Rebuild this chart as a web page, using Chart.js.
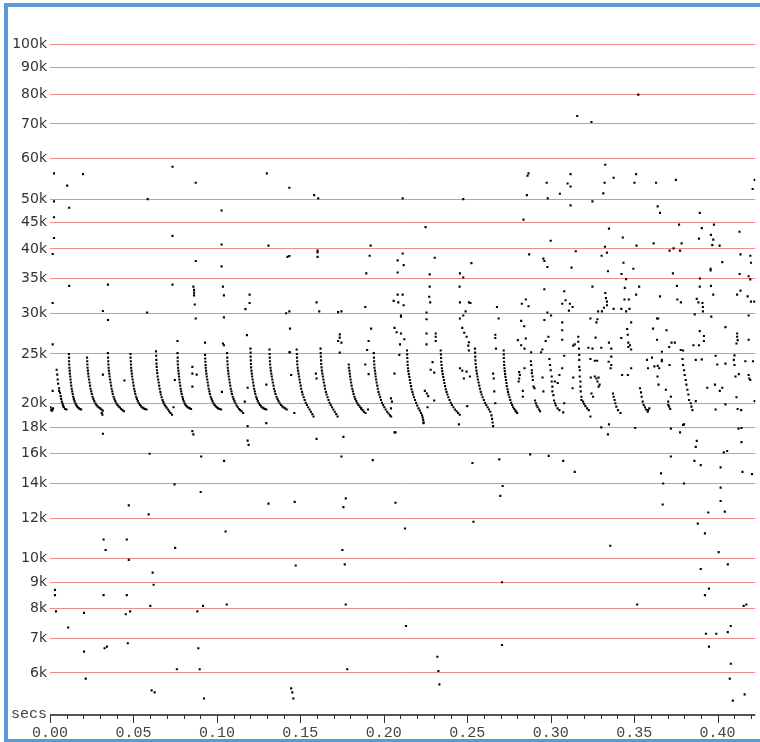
<!DOCTYPE html>
<html>
<head>
<meta charset="utf-8">
<script src="https://cdn.jsdelivr.net/npm/chart.js@4.4.1/dist/chart.umd.min.js"></script>
<style>
  html, body { margin: 0; padding: 0; background: #fff; }
  #wrap { position: relative; width: 760px; height: 742px; overflow: hidden; }
  #frame { position: absolute; left: 4px; top: 3px; width: 800px; height: 732px;
           border: 4px solid #5b9bd5; border-right: none; pointer-events: none; }
  canvas { position: absolute; left: 0; top: 0; }
</style>
</head>
<body>
<div id="wrap">
  <canvas id="chart" width="760" height="742"></canvas>
  <div id="frame"></div>
</div>
<script>
// time in ms, frequency in kHz
const yTicksK = [6, 7, 8, 9, 10, 12, 14, 16, 18, 20, 25, 30, 35, 40, 45, 50, 60, 70, 80, 90, 100];
const xTicksMs = [0, 10, 20, 30, 40, 50, 60, 70, 80, 90, 100, 110, 120, 130, 140, 150, 160, 170, 180, 190, 200,
                  210, 220, 230, 240, 250, 260, 270, 280, 290, 300, 310, 320, 330, 340, 350, 360, 370, 380, 390, 400, 410, 420];

// tail before the first sweep, then the first (short) sweep
const leadIn = [
  [0.3,19.7],[0.7,19.5],[1.0,19.4],[1.4,19.45],[1.8,19.6],
  [4.0,23.3],[4.35,22.8],[4.6,22.3],[4.9,21.9],[5.4,21.45],[5.5,21.2],[6.0,21.0],[6.4,20.7],[6.7,20.45],
  [7.1,20.2],[7.6,20.0],[7.9,19.8],[8.3,19.7],[9.1,19.55],[9.9,19.5]
];

// regular decaying sweeps, first half
const sweepsEarly = [
  [11.3,25.0],[11.4,24.6],[11.4,24.2],[11.5,23.85],[11.6,23.5],[11.8,23.2],[11.9,22.9],[12.1,22.6],[12.3,22.3],[12.5,22.0],[12.7,21.7],[13.0,21.4],[13.3,21.15],[13.6,20.9],[13.9,20.65],[14.3,20.45],[14.7,20.25],[15.2,20.05],[15.7,19.9],[16.2,19.78],[16.8,19.68],[17.4,19.6],[18.0,19.55],[18.7,19.5],

  [22.2,24.6],[22.3,24.2],[22.4,23.85],[22.5,23.5],[22.7,23.2],[22.9,22.9],[23.1,22.6],[23.4,22.3],[23.7,22.0],[24.0,21.7],[24.3,21.4],[24.7,21.15],[25.1,20.9],[25.5,20.65],[26.0,20.45],[26.5,20.25],[27.2,20.05],[27.8,19.9],[28.5,19.78],[29.3,19.68],[30.1,19.6],[30.8,19.5],[31.6,19.4],[31.0,19.2],[31.4,19.05],

  [34.7,25.1],[34.8,24.6],[34.9,24.2],[35.0,23.85],[35.1,23.5],[35.3,23.2],[35.5,22.9],[35.7,22.6],[36.0,22.3],[36.3,22.0],[36.6,21.7],[36.9,21.4],[37.3,21.15],[37.6,20.9],[38.1,20.65],[38.6,20.45],[39.1,20.25],[39.7,20.05],[40.4,19.9],[41.1,19.78],[41.9,19.68],[42.6,19.55],[43.4,19.45],[44.3,19.35],

  [48.2,25.0],[48.3,24.6],[48.4,24.2],[48.5,23.85],[48.6,23.5],[48.8,23.2],[49.0,22.9],[49.2,22.6],[49.5,22.3],[49.8,22.0],[50.1,21.7],[50.4,21.4],[50.8,21.15],[51.1,20.9],[51.6,20.65],[52.1,20.45],[52.6,20.25],[53.2,20.05],[53.9,19.9],[54.6,19.78],[55.4,19.68],[56.1,19.6],[56.9,19.55],[57.8,19.5],

  [63.5,25.3],[63.6,24.8],[63.7,24.35],[63.8,23.95],[63.9,23.6],[64.1,23.25],[64.3,22.95],[64.5,22.6],[64.8,22.3],[65.1,22.0],[65.4,21.7],[65.7,21.4],[66.1,21.1],[66.4,20.85],[66.9,20.6],[67.4,20.35],[67.9,20.15],[68.5,19.95],[69.2,19.8],[69.9,19.65],[70.7,19.5],[71.4,19.35],[72.2,19.2],[73.1,19.05],

  [76.4,25.1],[76.5,24.6],[76.5,24.2],[76.6,23.85],[76.7,23.5],[76.9,23.2],[77.1,22.9],[77.3,22.6],[77.5,22.3],[77.7,22.0],[78.0,21.7],[78.3,21.4],[78.6,21.15],[78.9,20.9],[79.3,20.65],[79.7,20.45],[80.1,20.25],[80.7,20.05],[81.2,19.9],[81.8,19.8],[82.5,19.7],[83.1,19.65],[83.8,19.6],[84.5,19.55],

  [92.9,24.9],[93.0,24.5],[93.1,24.15],[93.2,23.8],[93.3,23.5],[93.5,23.2],[93.7,22.9],[93.9,22.6],[94.2,22.3],[94.5,22.0],[94.8,21.7],[95.1,21.4],[95.5,21.15],[95.8,20.9],[96.3,20.65],[96.8,20.45],[97.3,20.25],[97.9,20.05],[98.6,19.9],[99.3,19.78],[100.1,19.68],[100.8,19.6],[101.6,19.55],[102.5,19.5],

  [106.1,25.1],[106.2,24.6],[106.3,24.2],[106.4,23.85],[106.5,23.5],[106.7,23.2],[106.9,22.9],[107.1,22.6],[107.4,22.3],[107.7,22.0],[108.0,21.7],[108.3,21.4],[108.7,21.15],[109.0,20.9],[109.5,20.65],[110.0,20.45],[110.5,20.25],[111.1,20.05],[111.8,19.85],[112.5,19.7],[113.3,19.55],[114.0,19.45],[114.8,19.35],[115.7,19.2],

  [120.1,25.6],[120.2,25.15],[120.2,24.7],[120.3,24.3],[120.4,23.9],[120.5,23.55],[120.7,23.2],[120.9,22.9],[121.1,22.6],[121.4,22.3],[121.7,22.0],[122.0,21.7],[122.3,21.4],[122.7,21.15],[123.0,20.9],[123.5,20.65],[124.0,20.45],[124.5,20.25],[125.1,20.05],[125.8,19.9],[126.5,19.78],[127.3,19.68],[128.0,19.6],[128.8,19.55],[129.6,19.5]
];

// regular decaying sweeps, second half
const sweepsLate = [
  [131.5,25.5],[131.6,25.0],[131.7,24.6],[131.8,24.2],[131.9,23.85],[132.1,23.5],[132.3,23.2],[132.6,22.9],[132.9,22.6],[133.2,22.3],[133.5,22.0],[133.9,21.7],[134.2,21.4],[134.7,21.15],[135.1,20.9],[135.7,20.65],[136.3,20.45],[136.9,20.25],[137.6,20.05],[138.4,19.9],[139.2,19.78],[140.0,19.68],[140.9,19.6],[141.8,19.5],

  [147.8,25.5],[147.9,25.0],[148.0,24.6],[148.1,24.2],[148.2,23.85],[148.4,23.5],[148.6,23.2],[148.9,22.9],[149.2,22.6],[149.5,22.3],[149.8,22.0],[150.2,21.7],[150.5,21.4],[151.0,21.1],[151.4,20.85],[152.0,20.6],[152.6,20.35],[153.2,20.1],[153.9,19.9],[154.7,19.7],[155.5,19.5],[156.3,19.3],[157.2,19.1],[157.9,18.9],

  [162.1,25.6],[162.2,25.1],[162.3,24.7],[162.4,24.3],[162.5,23.9],[162.7,23.55],[162.9,23.2],[163.2,22.9],[163.5,22.6],[163.8,22.3],[164.1,22.0],[164.5,21.7],[164.8,21.4],[165.3,21.1],[165.7,20.85],[166.3,20.6],[166.9,20.35],[167.5,20.1],[168.2,19.9],[169.0,19.7],[169.8,19.5],[170.6,19.3],[171.5,19.1],[172.3,18.9],

  [179.0,23.85],[179.1,23.5],[179.4,23.2],[179.6,22.9],[179.8,22.6],[180.1,22.3],[180.4,22.0],[180.7,21.7],[181.1,21.4],[181.5,21.15],[181.9,20.9],[182.4,20.65],[182.9,20.45],[183.5,20.25],[184.1,20.05],[184.8,19.9],[185.6,19.75],[186.4,19.6],[187.3,19.45],[188.1,19.3],[189.0,19.2],

  [194.0,25.1],[194.1,24.6],[194.2,24.2],[194.3,23.85],[194.4,23.5],[194.7,23.2],[194.9,22.9],[195.1,22.6],[195.4,22.3],[195.7,22.0],[196.1,21.7],[196.4,21.4],[196.8,21.1],[197.3,20.85],[197.8,20.6],[198.3,20.35],[198.9,20.1],[199.6,19.9],[200.3,19.7],[201.1,19.5],[202.0,19.3],[202.8,19.15],[203.7,19.0],[204.4,18.9],

  [213.9,25.4],[214.0,24.95],[214.1,24.55],[214.2,24.15],[214.3,23.8],[214.5,23.45],[214.7,23.15],[215.0,22.85],[215.3,22.55],[215.6,22.25],[215.9,21.95],[216.3,21.65],[216.6,21.35],[217.1,21.1],[217.5,20.85],[218.1,20.6],[218.7,20.35],[219.3,20.1],[220.0,19.85],[220.8,19.6],[221.6,19.4],[222.3,19.2],[222.9,19.0],[223.3,18.8],[223.6,18.6],[223.8,18.4],

  [234.1,25.4],[234.2,24.95],[234.3,24.55],[234.4,24.15],[234.6,23.8],[234.8,23.45],[235.0,23.15],[235.3,22.85],[235.6,22.55],[236.0,22.25],[236.3,21.95],[236.7,21.65],[237.1,21.35],[237.6,21.1],[238.1,20.85],[238.7,20.6],[239.4,20.35],[240.1,20.1],[240.8,19.9],[241.7,19.7],[242.6,19.5],[243.6,19.35],[244.5,19.2],[245.5,19.05],

  [254.6,25.6],[254.7,25.15],[254.8,24.7],[254.9,24.3],[255.0,23.9],[255.3,23.55],[255.5,23.2],[255.8,22.9],[256.1,22.6],[256.4,22.3],[256.8,22.0],[257.2,21.7],[257.6,21.4],[258.1,21.1],[258.6,20.85],[259.2,20.6],[259.9,20.35],[260.6,20.1],[261.4,19.9],[262.2,19.7],[263.0,19.5],[263.8,19.3],[264.5,19.0],[264.9,18.7],[265.2,18.4],[265.5,18.1],

  [271.8,25.4],[271.9,24.95],[271.9,24.55],[272.0,24.15],[272.1,23.8],[272.3,23.45],[272.5,23.15],[272.7,22.85],[272.9,22.55],[273.2,22.25],[273.5,21.95],[273.7,21.65],[274.1,21.35],[274.4,21.1],[274.8,20.85],[275.3,20.6],[275.8,20.35],[276.3,20.1],[276.9,19.9],[277.5,19.7],[278.2,19.55],[278.8,19.4],[279.4,19.3],[279.9,19.2]
];

// short broken sweeps after 0.28 s
const lateClusters = [
  [281.1,23.05],[281.5,22.75],[281.1,22.4],[280.8,22.1],
  [288.1,24.2],[288.3,23.8],[288.7,23.25],[288.7,22.95],[289.1,22.6],[289.3,22.25],[289.7,21.6],[290.3,21.45],
  [290.6,20.3],[291.1,20.05],[291.6,19.85],[292.2,19.7],[293.0,19.5],[293.6,19.35],
  [299.2,24.45],[299.6,23.8],[300.0,23.25],[300.6,22.6],[300.6,22.1],[301.0,21.6],[301.0,21.15],[301.6,20.8],
  [302.0,20.3],[302.6,20.05],[303.1,19.85],[304.1,19.6],[305.2,19.45],[307.5,19.25],
  [316.5,27.0],[316.5,26.4],[316.9,25.6],[317.1,24.9],[317.1,24.35],[317.1,23.6],[317.4,23.25],[317.4,22.6],
  [317.8,22.1],[317.8,21.6],[318.0,21.15],[318.4,20.65],[318.4,20.35],
  [319.4,20.2],[320.0,20.0],[320.8,19.8],[321.8,19.6],[322.8,19.45],
  [326.4,22.6],[327.4,22.4],[328.0,22.1],[329.3,21.8],[328.7,21.6],
  [337.3,20.95],[337.7,20.65],[338.3,20.35],[338.7,20.05],[339.3,19.75],[340.3,19.45],[341.8,19.2],
  [353.5,21.45],[354.1,21.05],[354.5,20.65],[355.1,20.2],[355.7,19.9],[356.5,19.7],[357.1,19.5],[358.1,19.3],
  [370.4,20.2],[370.4,19.9],[371.0,19.75],[371.6,19.55],
  [379.0,24.45],[379.3,23.8],[379.9,23.25],[380.3,22.75],[380.9,22.25],[381.3,21.8],[381.9,21.3],[382.5,20.85],
  [382.9,20.35],[383.9,20.05],[384.3,19.75],[384.9,19.45],
  [411.7,27.4],[411.7,27.0],[412.0,26.6],[411.3,26.2],
  [418.6,22.75],[419.6,22.25]
];

// stray points above the sweeps
const strayHigh = [
  [2.4,56.1],[2.4,49.5],[2.4,46.1],[2.4,42.0],[1.6,39.1],[1.6,31.4],[1.6,26.1],[1.6,21.2],
  [10.3,53.1],[11.5,48.1],[11.5,33.9],[19.8,55.9],[31.7,30.3],[34.7,34.1],[34.7,29.1],[31.7,22.8],[44.6,22.2],
  [58.2,30.1],[58.5,50.0],[73.4,57.8],[73.4,42.4],[73.4,34.1],[74.0,19.7],[74.8,22.25],[76.4,26.5],
  [87.3,53.8],[87.3,37.9],[85.9,33.8],[86.3,33.3],[86.3,32.9],[86.3,32.5],[86.7,31.2],[87.3,29.3],
  [85.3,23.6],[85.3,22.9],[87.9,22.8],[85.3,21.6],[92.9,26.3],
  [102.8,47.5],[102.8,40.8],[102.8,37.0],[103.6,33.8],[104.2,32.5],[104.2,29.45],[103.6,26.2],[104.2,26.0],[103.0,21.1],
  [117.1,30.55],[119.6,31.4],[119.6,32.6],[118.0,27.2],[118.4,21.5],[116.7,20.2],
  [129.9,56.1],[130.9,40.6],[129.6,21.8],
  [143.4,52.6],[158.3,50.9],[160.7,50.15],[211.3,50.15],[247.6,50.0],[225.0,44.1],[192.1,40.6],
  [160.3,39.7],[160.3,39.4],[160.3,38.6],[142.3,38.6],[143.4,38.75],[191.5,38.8],[211.3,39.2],[208.3,38.0],
  [211.9,37.2],[230.5,38.45],[252.5,37.55],[189.5,35.85],[208.3,36.0],[245.6,35.85],[247.6,35.2],[227.5,35.7],
  [227.5,33.8],[245.4,33.8],[227.2,32.3],[227.8,31.5],[208.3,32.6],[211.3,32.6],[205.9,31.7],[208.7,31.5],
  [211.9,31.1],[188.9,30.85],[159.7,31.5],[161.3,30.25],[141.5,30.0],[143.4,30.25],[172.6,30.15],[174.6,30.25],
  [210.3,29.7],[210.3,29.55],[225.6,30.1],[225.6,29.2],[245.6,31.5],[251.0,31.5],[251.9,31.4],[249.0,30.25],
  [245.6,29.3],[247.6,29.7],[267.8,30.85],[268.8,29.3],[143.8,28.0],[172.6,26.5],[173.6,26.9],[173.6,27.3],
  [174.6,26.3],[173.6,25.15],[192.4,28.0],[190.9,26.5],[190.0,25.45],[188.9,23.85],[190.9,22.85],
  [206.4,28.1],[207.7,27.55],[210.3,27.4],[212.3,26.7],[209.7,26.1],[209.3,24.9],[206.4,22.9],
  [225.6,27.4],[225.6,26.1],[231.1,27.4],[231.1,27.0],[231.1,26.5],[229.2,24.1],[228.1,23.3],[230.2,23.0],
  [224.6,21.2],[225.8,20.95],[226.6,20.7],[230.2,20.3],[226.2,19.7],
  [247.0,28.1],[248.2,27.5],[249.6,27.0],[251.0,26.35],[250.6,25.95],[251.0,25.4],
  [245.6,23.45],[247.0,23.2],[248.0,22.4],[249.6,23.1],[251.6,22.6],[250.0,19.8],
  [266.8,27.25],[266.8,26.85],[267.2,25.6],[265.5,22.9],[265.9,22.4],[266.2,21.15],[266.8,20.05],
  [159.3,22.9],[159.7,22.4],[144.5,22.75],[143.4,25.2],[143.8,25.2],[190.5,19.5],
  [204.3,20.5],[204.9,20.2],[204.3,19.6],[186.5,19.6],[146.4,19.2]
];

// stray points in the late, noisy part (above ~19k)
const strayLate = [
  [352.5,79.8],[315.9,72.5],[324.4,70.6],[332.7,58.3],[286.7,56.1],[286.1,55.5],[311.9,55.9],[351.2,55.9],
  [297.6,53.8],[310.1,53.6],[311.9,52.9],[332.3,53.8],[337.7,55.0],[350.2,53.8],[363.1,53.8],[375.0,54.5],
  [422.2,54.5],[421.0,52.3],[285.7,50.9],[305.5,51.2],[331.5,51.3],[298.2,50.15],[325.0,49.5],[311.9,48.6],
  [364.1,48.4],[365.5,47.0],[389.3,47.0],[283.7,45.6],[376.9,44.6],[390.5,43.9],[397.8,44.6],[334.9,43.8],
  [413.1,43.2],[396.0,42.6],[397.4,41.7],[396.8,40.7],[388.8,41.9],[401.2,40.6],[300.0,41.5],[343.2,42.1],
  [361.7,41.0],[351.4,40.6],[332.5,40.4],[373.6,40.1],[371.2,39.7],[378.4,41.0],[377.5,39.7],[287.1,39.05],
  [315.0,39.6],[333.7,39.35],[330.5,38.8],[295.6,38.3],[296.2,37.9],[413.7,39.05],[419.6,38.8],[420.0,37.6],
  [402.8,37.7],[298.0,36.9],[312.5,36.8],[343.6,37.6],[334.3,36.2],[349.5,36.6],[395.8,36.6],[395.8,36.35],
  [342.4,35.75],[345.2,34.95],[373.2,35.85],[389.4,35.05],[413.2,35.75],[418.6,35.4],[419.6,34.9],
  [325.0,33.8],[344.4,33.6],[353.0,33.8],[375.6,33.9],[389.3,33.8],[396.0,33.9],[296.2,33.4],[308.1,33.1],
  [332.7,32.85],[351.2,32.6],[365.5,32.35],[397.4,32.6],[411.7,32.6],[413.7,33.2],[418.0,32.35],[333.1,32.1],
  [285.1,31.9],[282.7,31.3],[286.7,30.95],[306.9,31.3],[308.9,31.8],[311.5,31.3],[313.1,30.85],[310.9,30.35],
  [333.7,31.6],[331.9,30.75],[333.7,31.1],[344.2,31.9],[346.8,31.9],[337.7,30.6],[342.3,30.6],[345.2,30.25],
  [347.2,30.6],[328.4,30.25],[330.7,30.25],[375.9,31.9],[378.0,31.5],[387.5,32.0],[388.5,31.5],[390.9,31.4],
  [391.2,30.85],[391.2,30.25],[386.3,29.85],[396.2,29.55],[420.0,31.6],[422.0,31.6],[298.0,30.1],[300.2,29.7],
  [296.2,29.1],[418.6,29.7],[282.3,29.0],[284.1,28.3],[306.9,28.8],[306.9,27.8],[323.8,29.3],[328.0,29.2],
  [327.4,28.8],[348.2,28.8],[345.8,27.95],[346.2,27.25],[363.7,29.3],[364.4,29.3],[361.3,28.0],[369.4,27.8],
  [389.3,27.7],[391.8,27.1],[404.7,28.2],[280.3,26.6],[285.1,26.8],[297.0,26.5],[298.6,27.0],[306.9,26.65],
  [314.4,26.1],[313.5,25.95],[326.9,26.9],[334.9,26.3],[342.3,26.85],[346.5,26.3],[347.5,26.0],[346.5,25.8],
  [348.2,25.5],[363.7,26.65],[372.4,26.3],[374.4,26.3],[371.0,25.8],[379.3,25.4],[385.5,26.0],[388.8,26.0],
  [391.8,26.5],[418.6,26.65],[282.3,26.0],[284.3,25.6],[288.3,25.2],[294.2,25.2],[295.0,25.5],[308.1,24.8],
  [322.6,25.7],[325.0,25.6],[330.3,25.7],[336.3,25.6],[323.8,24.45],[326.4,24.25],[327.8,24.25],[334.7,24.15],
  [336.3,24.7],[336.3,23.8],[357.7,24.35],[358.3,23.45],[360.7,24.6],[366.6,25.25],[366.6,24.35],[366.6,24.2],
  [362.1,23.65],[364.1,23.7],[371.2,23.8],[377.9,25.45],[386.9,24.35],[390.5,24.4],[398.8,24.8],[399.8,23.85],
  [404.7,23.95],[410.1,24.85],[409.7,24.35],[410.1,23.8],[416.6,24.2],[421.2,24.2],[284.3,23.45],[295.1,22.5],
  [305.2,22.75],[306.9,23.45],[313.5,22.5],[324.0,22.5],[328.7,22.5],[335.9,23.45],[342.8,22.75],[346.2,22.75],
  [348.2,23.45],[364.0,22.6],[364.6,21.8],[365.0,23.45],[369.0,21.3],[372.0,20.65],[393.8,21.5],[398.4,21.8],
  [401.3,21.2],[402.8,21.5],[410.7,22.6],[412.7,22.85],[419.0,22.4],[283.3,21.2],[283.3,20.65],[295.6,21.15],
  [304.2,21.95],[302.5,22.1],[308.1,20.05],[313.1,21.45],[324.4,20.95],[325.4,20.65],[386.9,20.25],[411.3,20.6],
  [412.0,19.55],[398.8,19.5],[404.7,19.95],[422.2,20.25],[414.1,19.45],[323.8,18.9],[358.3,19.45],[359.1,19.6]
];

// stray points below the sweeps
const strayLow = [
  [129.6,18.35],[118.4,18.1],[85.3,17.7],[31.7,17.5],[85.9,17.45],[118.4,16.97],[119.0,16.65],
  [59.7,16.0],[90.6,15.8],[104.3,15.5],[74.6,13.95],[90.3,13.48],[130.9,12.8],[47.2,12.7],[59.1,12.2],
  [105.2,11.3],[32.1,10.9],[46.0,10.9],[33.3,10.4],[75.0,10.5],[47.2,9.95],[61.5,9.4],[62.1,8.9],
  [3.0,8.7],[3.0,8.5],[32.1,8.5],[46.0,8.5],[60.1,8.1],[91.7,8.1],[105.9,8.15],[3.6,7.9],[20.4,7.85],
  [45.4,7.8],[48.0,7.9],[88.3,7.9],[10.9,7.35],[20.4,6.6],[32.7,6.7],[34.1,6.75],[46.6,6.85],[88.9,6.7],
  [76.0,6.1],[89.7,6.1],[21.4,5.85],[60.9,5.55],[62.7,5.5],[92.3,5.35],
  [223.8,18.35],[245.0,18.25],[159.7,17.1],[175.8,17.25],[206.4,17.6],[207.0,17.6],[174.6,15.8],[193.4,15.55],
  [253.1,15.35],[269.2,15.6],[271.2,13.85],[146.6,12.9],[177.2,13.1],[175.8,12.6],[207.0,12.85],[269.8,13.25],
  [253.7,11.8],[212.7,11.45],[175.2,10.4],[147.2,9.7],[176.6,9.75],[270.8,9.0],[177.2,8.15],[213.3,7.4],
  [270.8,6.8],[232.1,6.45],[178.1,6.1],[232.7,6.05],[233.3,5.7],[144.5,5.6],[145.2,5.5],[145.8,5.35],
  [330.3,18.0],[334.9,18.25],[334.3,17.45],[350.6,17.95],[372.0,17.9],[377.5,17.6],[379.3,18.2],[379.9,18.25],
  [387.5,16.95],[386.9,16.5],[412.5,17.9],[414.3,17.95],[414.3,16.85],[287.7,15.95],[298.8,15.85],[307.5,15.5],
  [314.4,14.75],[372.0,15.8],[366.1,14.65],[367.4,14.0],[379.9,14.0],[386.1,15.5],[389.9,15.2],[401.8,15.05],
  [403.7,16.1],[405.7,16.2],[414.9,14.75],[420.6,14.6],[401.8,13.75],[401.8,12.95],[404.3,12.35],[394.4,12.3],
  [367.1,12.75],[388.1,11.7],[392.4,11.2],[335.7,10.6],[400.6,10.3],[389.9,9.55],[406.1,9.75],[394.8,8.75],
  [392.4,8.5],[351.8,8.15],[415.6,8.1],[417.2,8.15],[407.9,7.4],[393.0,7.15],[399.2,7.15],[406.1,7.2],
  [394.8,6.75],[407.9,6.25],[407.3,5.85],[416.2,5.45],[409.1,5.3]
];

const allPoints = [].concat(leadIn, sweepsEarly, sweepsLate, lateClusters, strayHigh, strayLate, strayLow);

// axis line, tick marks and the "secs" caption
const axisExtras = {
  id: 'axisExtras',
  afterDraw(chart) {
    const c = chart.ctx;
    const xs = chart.scales.x;
    const area = chart.chartArea;
    const base = Math.round(area.bottom);
    c.save();
    c.strokeStyle = '#555';
    c.lineWidth = 2;
    c.beginPath();
    c.moveTo(area.left, base);
    c.lineTo(area.right, base);
    c.stroke();
    c.lineWidth = 1;
    c.strokeStyle = '#333';
    xTicksMs.forEach(v => {
      const px = Math.round(xs.getPixelForValue(v)) + 0.5;
      const len = v % 50 === 0 ? 8 : 4;
      c.beginPath();
      c.moveTo(px, base);
      c.lineTo(px, base + len);
      c.stroke();
    });
    c.font = '15px "Liberation Mono"';
    c.fillStyle = '#444';
    c.textAlign = 'right';
    c.textBaseline = 'alphabetic';
    c.fillText('secs', 47, base + 3);
    c.restore();
  }
};

const ctx = document.getElementById('chart').getContext('2d');
new Chart(ctx, {
  type: 'scatter',
  data: {
    datasets: [{
      data: allPoints.map(p => ({ x: p[0], y: p[1] })),
      pointStyle: 'rect',
      pointRadius: 1.5,
      pointHoverRadius: 1.5,
      backgroundColor: '#000',
      borderWidth: 0
    }]
  },
  options: {
    responsive: false,
    animation: false,
    devicePixelRatio: 1,
    layout: { padding: { top: 8, left: 0, right: 0, bottom: 0 } },
    plugins: { legend: { display: false }, tooltip: { enabled: false } },
    scales: {
      x: {
        type: 'linear',
        min: 0,
        max: 422.6,
        afterFit: s => { s.height = 27; },
        afterBuildTicks: s => { s.ticks = xTicksMs.map(v => ({ value: v })); },
        grid: { display: false, drawTicks: false },
        border: { display: false },
        ticks: {
          autoSkip: false,
          maxRotation: 0,
          padding: 9,
          color: '#444',
          font: { family: '"Liberation Mono"', size: 15 },
          callback: v => (v % 50 === 0 ? (v / 1000).toFixed(2) : '')
        }
      },
      y: {
        type: 'logarithmic',
        min: 4.97,
        max: 115.8,
        afterFit: s => { s.width = 50; },
        afterBuildTicks: s => { s.ticks = yTicksK.map(v => ({ value: v })); },
        grid: { color: '#f28b8b', lineWidth: 1, drawTicks: false },
        border: { display: false },
        ticks: {
          autoSkip: false,
          padding: 3,
          color: '#333',
          font: { family: '"DejaVu Sans"', size: 14 },
          callback: v => v + 'k'
        }
      }
    }
  },
  plugins: [axisExtras]
});
</script>
</body>
</html>
